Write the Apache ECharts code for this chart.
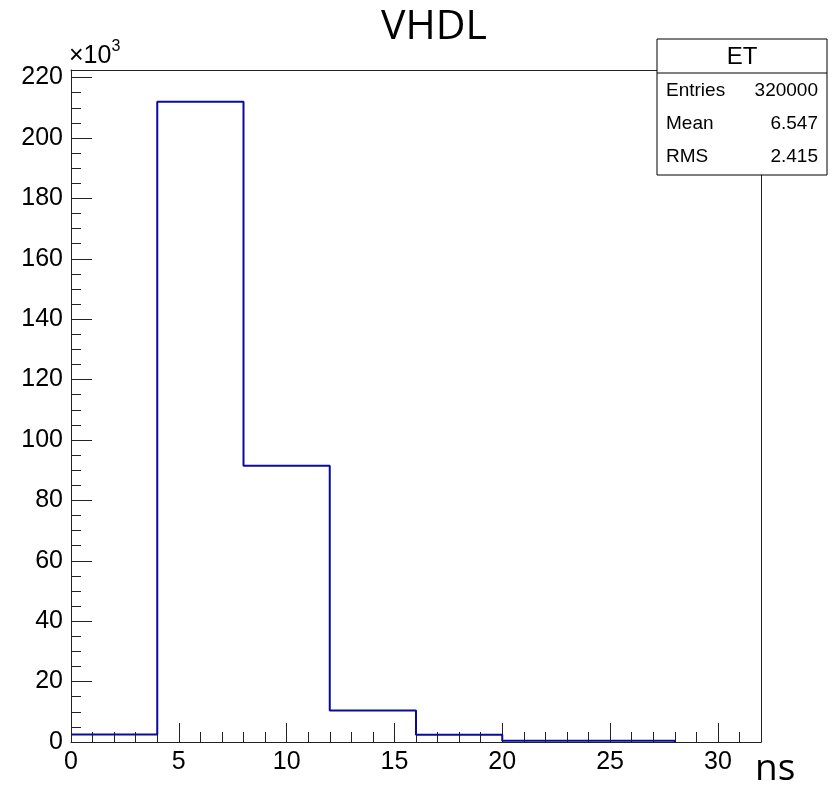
<!DOCTYPE html>
<html>
<head>
<meta charset="utf-8">
<script src="https://cdn.jsdelivr.net/npm/echarts@6/dist/echarts.min.js"></script>
<style>html,body{margin:0;padding:0;background:#fff;}#c{width:835px;height:788px;}</style>
</head>
<body>
<div id="c"></div>
<script>
// ---- data ----
const binEdges = [0, 4, 8, 12, 16, 20, 24, 28, 32];
const binCounts = [2500, 212000, 91500, 10400, 2400, 400, 400, 0];
const xMajorTicks = [0, 5, 10, 15, 20, 25, 30];
const yTickStep = 20000;
const yMax = 222500;
const statsTitle = 'ET';
const statsNames = ['Entries', 'Mean', 'RMS'];
const statsValues = ['320000', '6.547', '2.415'];

// ---- build ----
const points = binEdges.slice(0, -1).map((e, i) => [e, binCounts[i]]);
const chart = echarts.init(document.getElementById('c'), null, {renderer: 'canvas'});
const axisCol = '#222';
const lblFont = {fontFamily: 'Liberation Sans', fontSize: 25, color: '#000'};

const statsGraphics = [];
const boxX = 657, boxY = 39, boxW = 170, boxH = 136, headH = 34, rowH = 33.3;
statsGraphics.push({type: 'rect', shape: {x: boxX, y: boxY, width: boxW, height: boxH},
  style: {fill: '#fff', stroke: '#000', lineWidth: 1}, z: 100});
statsGraphics.push({type: 'line', shape: {x1: boxX, y1: boxY + headH, x2: boxX + boxW, y2: boxY + headH},
  style: {stroke: '#000', lineWidth: 1}, z: 101});
statsGraphics.push({type: 'text', x: boxX + boxW / 2, y: boxY + headH / 2 + 1, z: 101,
  style: {text: statsTitle, fontFamily: 'Liberation Sans', fontSize: 24, fill: '#000', align: 'center', verticalAlign: 'middle'}});
statsNames.forEach((n, i) => {
  const cy = boxY + headH + rowH * (i + 0.5) + 1;
  statsGraphics.push({type: 'text', x: boxX + 9, y: cy, z: 101,
    style: {text: n, fontFamily: 'Liberation Sans', fontSize: 19, fill: '#000', align: 'left', verticalAlign: 'middle'}});
  statsGraphics.push({type: 'text', x: boxX + boxW - 9, y: cy, z: 101,
    style: {text: statsValues[i], fontFamily: 'Liberation Sans', fontSize: 19, fill: '#000', align: 'right', verticalAlign: 'middle'}});
});

const option = {
  backgroundColor: '#fff',
  animation: false,
  title: {text: 'VHDL', left: 376, top: 2,
    textStyle: {fontFamily: 'Open Sans', fontSize: 41, fontWeight: 'normal', color: '#000'}},
  grid: {left: 71, right: 74, top: 70, bottom: 45, containLabel: false},
  xAxis: [
    {type: 'value', min: binEdges[0], max: binEdges[binEdges.length - 1], interval: 5, position: 'bottom',
      axisLine: {show: true, onZero: false, lineStyle: {color: axisCol, width: 1}},
      axisTick: {show: true, inside: true, length: 19, lineStyle: {color: axisCol}},
      axisLabel: Object.assign({margin: 8, showMaxLabel: false,
        formatter: v => xMajorTicks.includes(v) ? String(v) : ''}, lblFont),
      splitLine: {show: false},
      name: 'ns', nameLocation: 'end', nameGap: -6,
      nameTextStyle: {fontFamily: 'Open Sans', fontSize: 37, color: '#000', align: 'left', verticalAlign: 'top', padding: [9, 0, 0, 0]}},
    {type: 'value', min: binEdges[0], max: binEdges[binEdges.length - 1], interval: 1, position: 'bottom',
      axisLine: {show: false, onZero: false},
      axisTick: {show: true, inside: true, length: 10, lineStyle: {color: axisCol}},
      axisLabel: {show: false}, splitLine: {show: false}},
    {type: 'value', min: binEdges[0], max: binEdges[binEdges.length - 1], position: 'top',
      axisLine: {show: true, onZero: false, lineStyle: {color: axisCol, width: 1}},
      axisTick: {show: false}, axisLabel: {show: false}, splitLine: {show: false}}
  ],
  yAxis: [
    {type: 'value', min: 0, max: yMax, interval: yTickStep, position: 'left',
      axisLine: {show: true, onZero: false, lineStyle: {color: axisCol, width: 1}},
      axisTick: {show: true, inside: true, length: 21, lineStyle: {color: axisCol}},
      axisLabel: Object.assign({margin: 8, showMaxLabel: false, formatter: v => String(Math.round(v / 1000))}, lblFont),
      splitLine: {show: false},
      name: '{a|×10}{b|3}', nameLocation: 'end', nameGap: 1,
      nameTextStyle: {align: 'left', verticalAlign: 'bottom', padding: [0, 0, 0, -2],
        rich: {a: {fontFamily: 'Liberation Sans', fontSize: 25, color: '#000', verticalAlign: 'bottom'},
               b: {fontFamily: 'Liberation Sans', fontSize: 16, color: '#000', verticalAlign: 'top', padding: [0, 0, 14, 0]}}}},
    {type: 'value', min: 0, max: yMax, interval: yTickStep / 4, position: 'left',
      axisLine: {show: false, onZero: false},
      axisTick: {show: true, inside: true, length: 10, lineStyle: {color: axisCol}},
      axisLabel: {show: false}, splitLine: {show: false}},
    {type: 'value', min: 0, max: yMax, position: 'right',
      axisLine: {show: true, onZero: false, lineStyle: {color: axisCol, width: 1}},
      axisTick: {show: false}, axisLabel: {show: false}, splitLine: {show: false}}
  ],
  series: [{
    type: 'line', step: 'end', data: points, xAxisIndex: 0, yAxisIndex: 0,
    showSymbol: false, symbol: 'none', lineStyle: {color: '#0a0aa0', width: 2}, z: 1
  }],
  graphic: statsGraphics
};
chart.setOption(option);
</script>
</body>
</html>
